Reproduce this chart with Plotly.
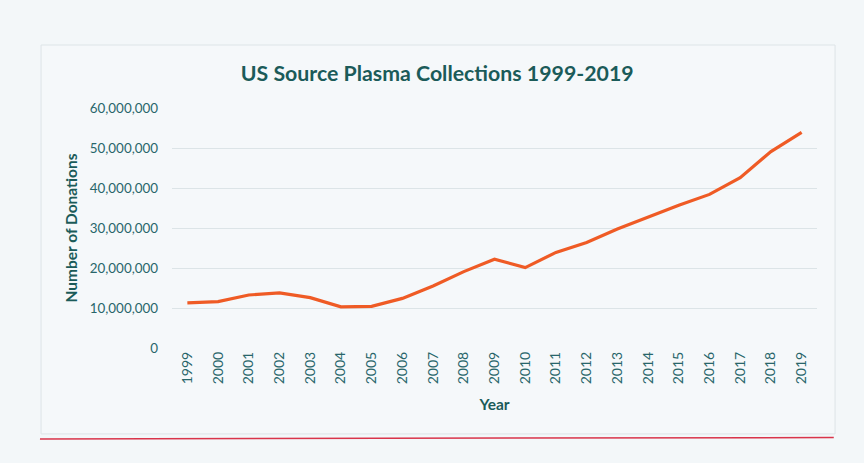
import plotly.graph_objects as go

years = list(range(1999, 2020))
donations = [11.3e6, 11.6e6, 13.25e6, 13.8e6, 12.6e6, 10.3e6, 10.4e6, 12.4e6, 15.5e6,
             19.1e6, 22.2e6, 20.1e6, 23.9e6, 26.4e6, 29.75e6, 32.8e6, 35.7e6, 38.4e6,
             42.6e6, 49.1e6, 53.9e6]
y_ticks = [0, 10e6, 20e6, 30e6, 40e6, 50e6, 60e6]
y_tick_labels = ["0", "10,000,000", "20,000,000", "30,000,000", "40,000,000", "50,000,000", "60,000,000"]

teal = "#1b5b59"
tick_col = "#28666a"
font = "Lato"

fig = go.Figure()
fig.add_trace(go.Scatter(x=years, y=donations, mode="lines",
                         line=dict(color="#ef5b25", width=3.2), hoverinfo="x+y"))

fig.update_layout(
    width=864, height=463,
    paper_bgcolor="#f3f7f9", plot_bgcolor="#f5f8fa",
    margin=dict(l=172, r=47, t=108, b=115),
    showlegend=False,
    font=dict(family=font, color=tick_col),
    title=dict(text="<b>US Source Plasma Collections 1999-2019</b>",
               font=dict(family=font, size=21.3, color=teal),
               x=0.506, xanchor="center", y=0.842, yanchor="middle"),
    shapes=[
        dict(type="rect", xref="paper", yref="paper", layer="below",
             x0=-0.203, x1=1.028, y0=-0.358, y1=1.2625,
             line=dict(color="#dde4e7", width=1), fillcolor="#f5f8fa"),
        dict(type="line", xref="paper", yref="paper",
             x0=-0.2047, x1=1.026, y0=-0.379, y1=-0.373,
             line=dict(color="#d9344a", width=1.5)),
    ],
)
fig.update_xaxes(range=[1998.5, 2019.5], tickmode="array", tickvals=years,
                 ticktext=[str(y) for y in years], tickangle=-90,
                 showgrid=False, zeroline=False, showline=False,
                 tickfont=dict(size=14, color=tick_col, family=font),
                 ticks="", ticklen=0,
                 title=dict(text="<b>Year</b>", font=dict(size=15.5, color=teal, family=font), standoff=15))
fig.update_yaxes(range=[0, 60e6], tickmode="array", tickvals=y_ticks, ticktext=y_tick_labels,
                 showgrid=True, gridcolor="#dce4e7", gridwidth=1,
                 zeroline=False, showline=False,
                 tickfont=dict(size=13.4, color=tick_col, family=font),
                 ticks="", ticklen=0, ticklabelstandoff=13,
                 title=dict(text="<b>Number of Donations</b>", font=dict(size=15.5, color=teal, family=font), standoff=8))

fig.write_html("out.html", config={"displayModeBar": False},
               post_script="document.body.style.margin='0px';")
